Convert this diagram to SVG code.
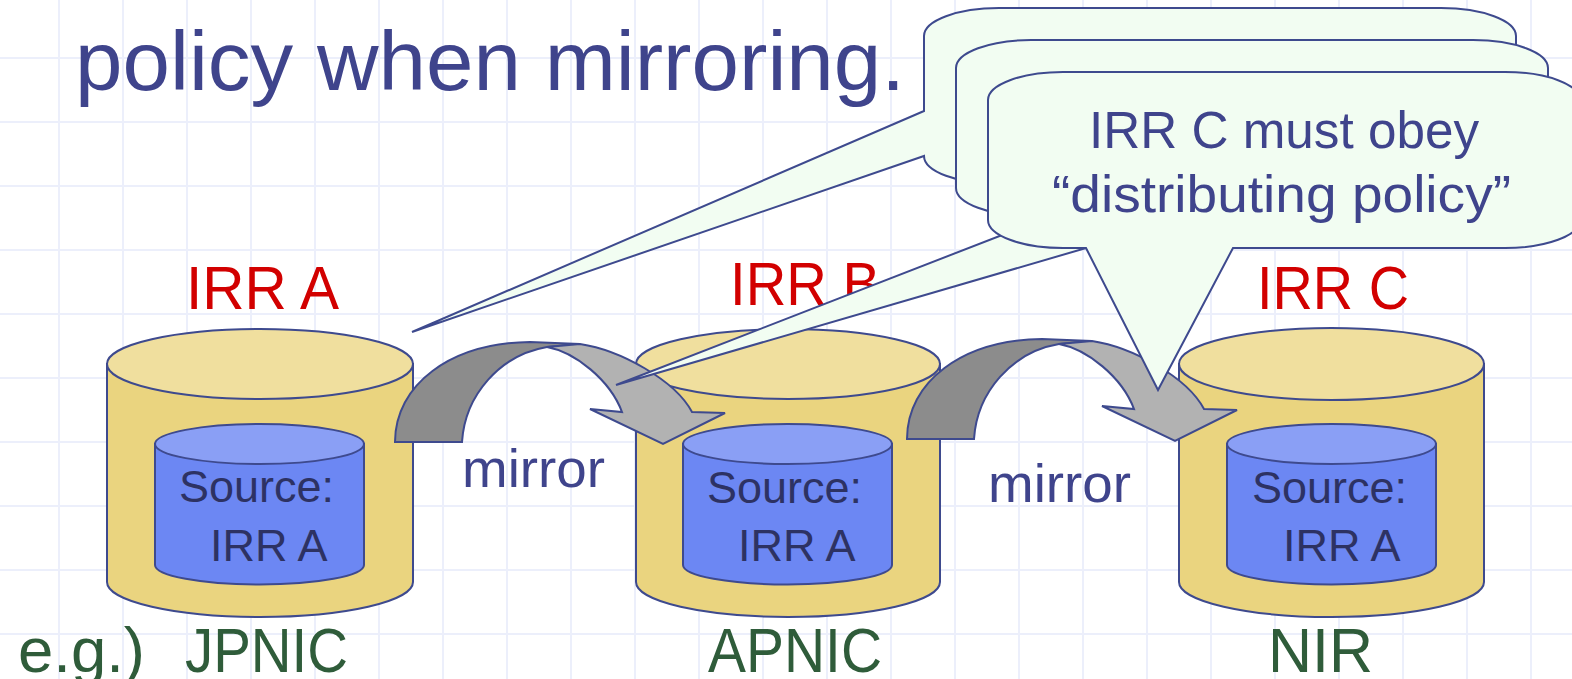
<svg xmlns="http://www.w3.org/2000/svg" xmlns:xlink="http://www.w3.org/1999/xlink" width="1572" height="679" viewBox="0 0 1572 679">
<style>
text{font-family:"Liberation Sans",Arial,sans-serif}
.grid{stroke:#ECEFFB;stroke-width:2;fill:none}
.st{stroke:#3E4A8E;stroke-width:2}
.obody{fill:#EAD47F}
.otop{fill:#F0DF9E}
.ibody{fill:#6C87F3}
.itop{fill:#8A9FF5}
.src{font-size:45px;fill:#2D3263}
.red{font-size:62px;fill:#D20000}
.grn{font-size:63px;fill:#2F5C3A}
.blue{fill:#3F448C}
.dark{fill:#8C8C8C}
.light{fill:#B2B2B2}
.bal{fill:#F2FDF2}
</style>
<defs>
<g id="arrowShape">
<path class="dark st" d="M395,442 C395,385 450,343 530,342 L580,344 L547,347 C500,355 465,395 462,442 Z"/>
<path class="light st" stroke-linejoin="miter" d="M580,344 C620,350 675,380 692,412 L725,413 L663,444 L590,409 L622,412 C610,380 575,352 547,347 Z"/>
</g>
</defs>
<rect width="1572" height="679" fill="#FFFFFF"/>
<path class="grid" d="M59 0V679M123 0V679M187 0V679M251 0V679M315 0V679M379 0V679M443 0V679M507 0V679M571 0V679M635 0V679M699 0V679M763 0V679M827 0V679M891 0V679M955 0V679M1019 0V679M1083 0V679M1147 0V679M1211 0V679M1275 0V679M1339 0V679M1403 0V679M1467 0V679M1531 0V679M0 58H1572M0 122H1572M0 186H1572M0 250H1572M0 314H1572M0 378H1572M0 442H1572M0 506H1572M0 570H1572M0 634H1572"/>

<g id="title">
<text x="75" y="90" font-size="84" class="blue" textLength="830" lengthAdjust="spacingAndGlyphs">policy when mirroring.</text>
</g>

<g id="labels">
<text x="186" y="309" class="red" textLength="153" lengthAdjust="spacingAndGlyphs">IRR A</text>
<text x="730" y="305" class="red" textLength="150" lengthAdjust="spacingAndGlyphs">IRR B</text>
<text x="1257" y="309" class="red" textLength="152" lengthAdjust="spacingAndGlyphs">IRR C</text>
<text x="18" y="672" class="grn" textLength="127" lengthAdjust="spacingAndGlyphs">e.g.)</text>
<text x="185" y="672" class="grn" textLength="163" lengthAdjust="spacingAndGlyphs">JPNIC</text>
<text x="708" y="672" class="grn" textLength="174" lengthAdjust="spacingAndGlyphs">APNIC</text>
<text x="1268" y="672" class="grn" textLength="105" lengthAdjust="spacingAndGlyphs">NIR</text>
<text x="462" y="487" font-size="54" class="blue" textLength="143" lengthAdjust="spacingAndGlyphs">mirror</text>
<text x="988" y="502" font-size="54" class="blue" textLength="143" lengthAdjust="spacingAndGlyphs">mirror</text>
</g>

<g id="cylA">
<path class="obody st" d="M107,364 V582 A153,35 0 0 0 413,582 V364 Z"/>
<ellipse class="otop st" cx="260" cy="364" rx="153" ry="35"/>
<path class="ibody st" d="M155,444 V565 A104.5,19.5 0 0 0 364,565 V444 Z"/>
<ellipse class="itop st" cx="259.5" cy="444" rx="104.5" ry="20"/>
<text x="179" y="502" class="src">Source:</text>
<text x="210" y="561" class="src">IRR A</text>
</g>

<g id="cylB">
<path class="obody st" d="M636,364 V582 A152,35 0 0 0 940,582 V364 Z"/>
<ellipse class="otop st" cx="788" cy="364" rx="152" ry="35"/>
<path class="ibody st" d="M683,444 V565 A104.5,19.5 0 0 0 892,565 V444 Z"/>
<ellipse class="itop st" cx="787.5" cy="444" rx="104.5" ry="20"/>
<text x="707" y="503" class="src">Source:</text>
<text x="738" y="561" class="src">IRR A</text>
</g>

<g id="cylC">
<path class="obody st" d="M1179,364 V582 A152.5,35 0 0 0 1484,582 V364 Z"/>
<ellipse class="otop st" cx="1331.5" cy="364" rx="152.5" ry="36"/>
<path class="ibody st" d="M1227,444 V565 A104.5,19.5 0 0 0 1436,565 V444 Z"/>
<ellipse class="itop st" cx="1331.5" cy="444" rx="104.5" ry="20"/>
<text x="1252" y="503" class="src">Source:</text>
<text x="1283" y="561" class="src">IRR A</text>
</g>

<g id="connectors">
<use xlink:href="#arrowShape" href="#arrowShape"/>
<use xlink:href="#arrowShape" href="#arrowShape" transform="translate(512,-3)"/>
</g>

<g id="balloon1">
<path class="bal st" d="M999,8 H1441 A75,28 0 0 1 1516,36 V156 A75,28 0 0 1 1441,184 H999 A75,28 0 0 1 924,156 L412,332 L924,111 V36 A75,28 0 0 1 999,8 Z"/>
</g>
<g id="balloon2">
<path class="bal st" d="M1031,40 H1473 A75,28 0 0 1 1548,68 V188 A75,28 0 0 1 1473,216 H1196 L616,385 L1051,216 H1031 A75,28 0 0 1 956,188 V68 A75,28 0 0 1 1031,40 Z"/>
</g>
<g id="balloon3">
<path class="bal st" d="M1063,72 H1505 A75,28 0 0 1 1580,100 V220 A75,28 0 0 1 1505,248 H1233 L1158,390 L1086,248 H1063 A75,28 0 0 1 988,220 V100 A75,28 0 0 1 1063,72 Z"/>
<text x="1089" y="148" font-size="52" class="blue" textLength="390" lengthAdjust="spacingAndGlyphs">IRR C must obey</text>
<text x="1052" y="212" font-size="52" class="blue" textLength="459" lengthAdjust="spacingAndGlyphs">“distributing policy”</text>
</g>
</svg>
